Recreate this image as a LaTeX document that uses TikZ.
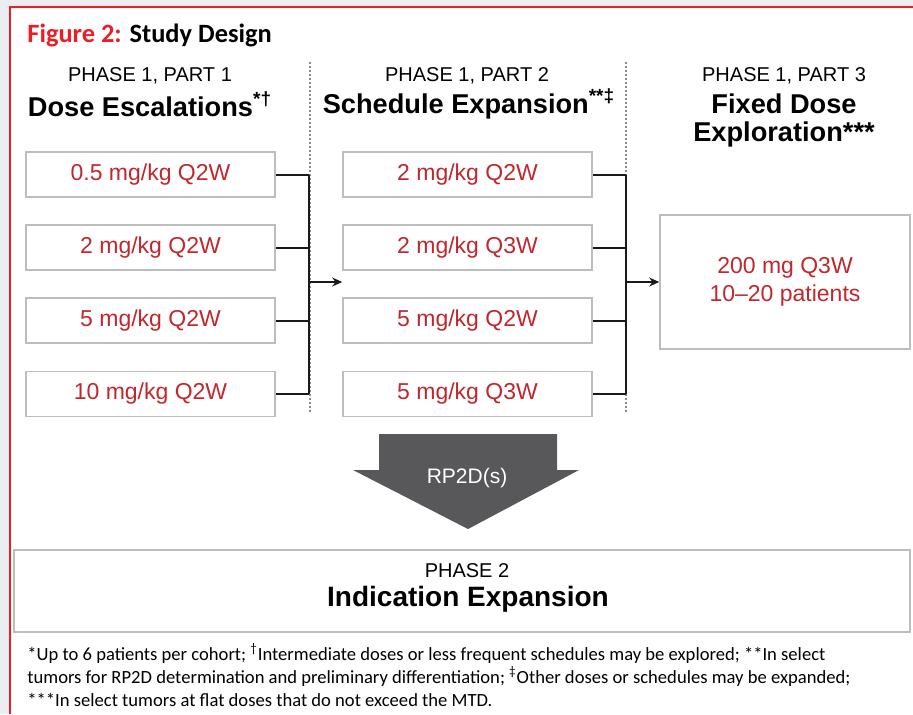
\documentclass[tikz,border=0pt]{standalone}
\usepackage{fontspec}
\setmainfont{Liberation Sans}
\newfontfamily\calibfont{Carlito}
\usetikzlibrary{positioning,arrows.meta}
\definecolor{dosered}{HTML}{C1272D}
\definecolor{framered}{HTML}{EE1C25}
\definecolor{boxgray}{HTML}{BDBDBD}
\definecolor{arrowgray}{HTML}{58585A}
\definecolor{bggray}{HTML}{ECEDF1}

\begin{document}
\begin{tikzpicture}[x=0.5pt, y=-0.5pt, node distance=13.25pt and 10pt, >={Stealth[length=5pt,width=4.5pt]},
    dose/.style={draw=boxgray, line width=0.8pt, minimum width=124.5pt, minimum height=22.5pt, inner sep=0pt,
      font=\fontsize{11.5}{14}\selectfont, text=dosered},
    phase/.style={font=\fontsize{10}{11}\selectfont},
    heading/.style={font=\fontsize{13.6}{14}\selectfont\bfseries, align=center},
    bracket/.style={line width=1pt, black!90},
    sep/.style={draw=black!45, line width=1pt, dash pattern=on 0.9pt off 1.1pt}]

  % frame
  \useasboundingbox (0,0) rectangle (913,714);
  \fill[bggray] (0,0) rectangle (913,714);
  \fill[white] (10,7) rectangle (913,714);
  \draw[framered, line width=1pt] (10,714) -- (10,7) -- (913,7);

  \node[anchor=west, inner sep=0pt, font=\calibfont\fontsize{13.2}{15}\selectfont\bfseries] (title) at (27,35)
    {\textcolor{framered}{Figure 2:} Study Design};

  % column heads
  \node[phase] (h1) at (150,76) {PHASE 1, PART 1};
  \node[heading] (t1) at (150,104) {Dose Escalations\textsuperscript{*†}};
  \node[phase] (h2) at (467,76) {PHASE 1, PART 2};
  \node[heading] (t2) at (469,104) {Schedule Expansion\textsuperscript{**‡}};
  \node[phase] (h3) at (784,76) {PHASE 1, PART 3};
  \node[heading] (t3) at (784,120) {Fixed Dose\\Exploration***};

  \draw[sep] (310,62) -- (310,412);
  \draw[sep] (626,62) -- (626,412);

  % part 1
  \node[dose] (d1) at (150.5,174.5) {0.5 mg/kg Q2W};
  \node[dose, below=of d1] (d2) {2 mg/kg Q2W};
  \node[dose, below=of d2] (d3) {5 mg/kg Q2W};
  \node[dose, below=of d3] (d4) {10 mg/kg Q2W};

  % part 2
  \node[dose] (s1) at (467.5,174.5) {2 mg/kg Q2W};
  \node[dose, below=of s1] (s2) {2 mg/kg Q3W};
  \node[dose, below=of s2] (s3) {5 mg/kg Q2W};
  \node[dose, below=of s3] (s4) {5 mg/kg Q3W};

  % part 3
  \node[dose, minimum width=125pt, minimum height=67pt, align=center, font=\fontsize{11.5}{14}\selectfont] (fx) at (785,282)
    {200 mg Q3W\\10--20 patients};

  \coordinate (j1) at (309,282);
  \coordinate (j2) at (626,282);
  \foreach \i in {1,...,4} {
    \draw[bracket] (d\i.east) -- (d\i.east -| j1);
    \draw[bracket] (s\i.east) -- (s\i.east -| j2);
  }
  \draw[bracket] (d1.east -| j1) -- (d4.east -| j1);
  \draw[bracket] (s1.east -| j2) -- (s4.east -| j2);
  \draw[bracket, ->] (j1) -- (j1 -| s1.west);
  \draw[bracket, ->] (j2) -- (j2 -| fx.west);

  % RP2D arrow
  \fill[arrowgray] (379,434) -- (557,434) -- (557,470) -- (579,470) -- (468,529) -- (353,470) -- (379,470) -- cycle;
  \node[text=white, font=\fontsize{10.5}{12}\selectfont] (rp) at (467,478) {RP2D(s)};

  % phase 2
  \node[draw=boxgray, line width=0.8pt, minimum width=448pt, minimum height=41pt] (p2) at (462,591) {};
  \node[phase] (p2h) at (467,571) {PHASE 2};
  \node[heading, font=\fontsize{14}{16}\selectfont\bfseries] (p2t) at (468,599) {Indication Expansion};

  % footnotes
  \node[anchor=north west, align=left, inner sep=0pt, font=\calibfont\fontsize{9.3}{11.5}\selectfont] (fn) at (27,643)
    {*Up to 6 patients per cohort; \textsuperscript{†}Intermediate doses or less frequent schedules may be explored; **In select\\
     tumors for RP2D determination and preliminary differentiation; \textsuperscript{‡}Other doses or schedules may be expanded;\\
     ***In select tumors at flat doses that do not exceed the MTD.};
\end{tikzpicture}
\end{document}
